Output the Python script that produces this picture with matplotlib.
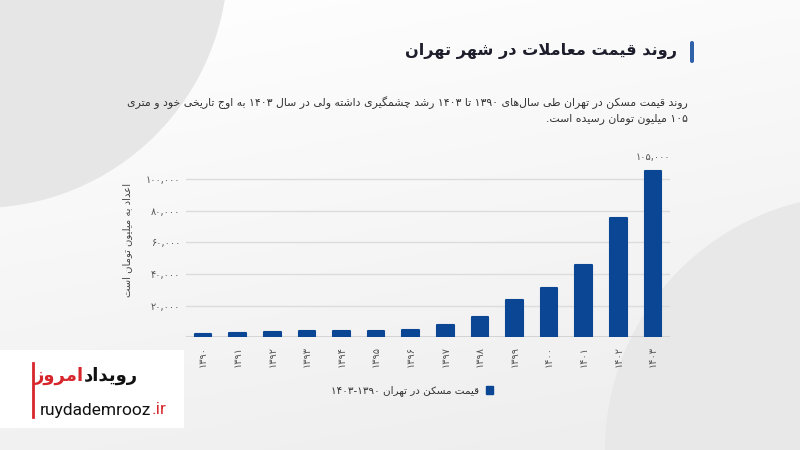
import matplotlib

matplotlib.use("Agg")
import matplotlib.pyplot as plt
import numpy as np
from matplotlib.colors import LinearSegmentedColormap
from matplotlib.patches import Circle, FancyBboxPatch, Patch, Rectangle

plt.rcParams["font.family"] = ["DejaVu Sans"]

# --- data -----------------------------------------------------------------
YEARS = [1390, 1391, 1392, 1393, 1394, 1395, 1396, 1397, 1398, 1399, 1400, 1401, 1402, 1403]
PRICES = [1900, 2800, 3600, 3800, 3800, 4200, 4900, 8000, 13100, 23600, 31400, 45800, 75700, 105000]
Y_TICKS = [20000, 40000, 60000, 80000, 100000]

TITLE = "روند قیمت معاملات در شهر تهران"
INTRO = [
    "روند قیمت مسکن در تهران طی سال\u200cهای ۱۳۹۰ تا ۱۴۰۳ رشد چشمگیری داشته ولی در سال ۱۴۰۳ به اوج تاریخی خود و متری",
    "۱۰۵ میلیون تومان رسیده است.",
]
Y_LABEL = "اعداد به میلیون تومان است"
LEGEND = "قیمت مسکن در تهران ۱۳۹۰-۱۴۰۳"

BLUE = "#0b4694"
RED = "#d7262b"

# --- minimal persian shaping (matplotlib has no bidi / joining) ------------
FORMS = {
    "ا": (0xFE8D, 0xFE8E), "آ": (0xFE81, 0xFE82), "د": (0xFEA9, 0xFEAA),
    "ذ": (0xFEAB, 0xFEAC), "ر": (0xFEAD, 0xFEAE), "ز": (0xFEAF, 0xFEB0),
    "ژ": (0xFB8A, 0xFB8B), "و": (0xFEED, 0xFEEE),
    "ب": (0xFE8F, 0xFE90, 0xFE91, 0xFE92), "پ": (0xFB56, 0xFB57, 0xFB58, 0xFB59),
    "ت": (0xFE95, 0xFE96, 0xFE97, 0xFE98), "ث": (0xFE99, 0xFE9A, 0xFE9B, 0xFE9C),
    "ج": (0xFE9D, 0xFE9E, 0xFE9F, 0xFEA0), "چ": (0xFB7A, 0xFB7B, 0xFB7C, 0xFB7D),
    "ح": (0xFEA1, 0xFEA2, 0xFEA3, 0xFEA4), "خ": (0xFEA5, 0xFEA6, 0xFEA7, 0xFEA8),
    "س": (0xFEB1, 0xFEB2, 0xFEB3, 0xFEB4), "ش": (0xFEB5, 0xFEB6, 0xFEB7, 0xFEB8),
    "ص": (0xFEB9, 0xFEBA, 0xFEBB, 0xFEBC), "ض": (0xFEBD, 0xFEBE, 0xFEBF, 0xFEC0),
    "ط": (0xFEC1, 0xFEC2, 0xFEC3, 0xFEC4), "ظ": (0xFEC5, 0xFEC6, 0xFEC7, 0xFEC8),
    "ع": (0xFEC9, 0xFECA, 0xFECB, 0xFECC), "غ": (0xFECD, 0xFECE, 0xFECF, 0xFED0),
    "ف": (0xFED1, 0xFED2, 0xFED3, 0xFED4), "ق": (0xFED5, 0xFED6, 0xFED7, 0xFED8),
    "ک": (0xFB8E, 0xFB8F, 0xFB90, 0xFB91), "گ": (0xFB92, 0xFB93, 0xFB94, 0xFB95),
    "ل": (0xFEDD, 0xFEDE, 0xFEDF, 0xFEE0), "م": (0xFEE1, 0xFEE2, 0xFEE3, 0xFEE4),
    "ن": (0xFEE5, 0xFEE6, 0xFEE7, 0xFEE8), "ه": (0xFEE9, 0xFEEA, 0xFEEB, 0xFEEC),
    "ی": (0xFBFC, 0xFBFD, 0xFBFE, 0xFBFF), "ئ": (0xFE89, 0xFE8A, 0xFE8B, 0xFE8C),
}
LAM_ALEF = {"ا": (0xFEFB, 0xFEFC), "آ": (0xFEF5, 0xFEF6)}


def shape(text):
    out, i = [], 0
    while i < len(text):
        c = text[i]
        if c not in FORMS:
            if c != "\u200c":
                out.append(c)
            i += 1
            continue
        prev = text[i - 1] if i else ""
        link_prev = len(FORMS.get(prev, ())) == 4
        nxt = text[i + 1] if i + 1 < len(text) else ""
        if c == "ل" and nxt in LAM_ALEF:
            out.append(chr(LAM_ALEF[nxt][1 if link_prev else 0]))
            i += 2
            continue
        f = FORMS[c]
        link_next = len(f) == 4 and nxt in FORMS
        if link_prev and link_next:
            out.append(chr(f[3]))
        elif link_prev:
            out.append(chr(f[1]))
        elif link_next:
            out.append(chr(f[2]))
        else:
            out.append(chr(f[0]))
        i += 1
    return out


def rtl(text):
    runs = []
    for g in shape(text):
        d = g.isdigit()
        if runs and runs[-1][0] == d:
            runs[-1][1].append(g)
        else:
            runs.append([d, [g]])
    return "".join("".join(s if d else s[::-1]) for d, s in reversed(runs))


FA_DIGITS = str.maketrans("0123456789", "۰۱۲۳۴۵۶۷۸۹")


def fa_num(v, comma=True):
    return (f"{v:,}" if comma else str(v)).translate(FA_DIGITS)


# --- figure & background (pixel coordinates) -------------------------------
fig = plt.figure(figsize=(8, 4.5), dpi=100)
bg = fig.add_axes([0, 0, 1, 1])
bg.set_xlim(0, 800)
bg.set_ylim(450, 0)
bg.axis("off")

yy, xx = np.mgrid[0:450, 0:800]
grad = 0.75 * yy / 450 + 0.25 * xx / 800
cmap = LinearSegmentedColormap.from_list("bg", ["#ffffff", "#ededed"])
bg.imshow(grad, cmap=cmap, extent=(0, 800, 450, 0), aspect="auto", zorder=0)
bg.add_patch(Circle((-20, -40), 248, facecolor="#e6e6e6", edgecolor="none", zorder=1))
bg.add_patch(Circle((860, 450), 255, facecolor="#e8e8e8", edgecolor="none", zorder=1))

# title block
bg.add_patch(FancyBboxPatch((690, 41), 4, 22, boxstyle="round,pad=0,rounding_size=2",
                            facecolor="#2f62a8", edgecolor="none", zorder=2))
bg.text(677, 51, rtl(TITLE), ha="right", va="center", fontsize=11.6,
        weight="bold", color="#1d1d2b", zorder=3)
for k, line in enumerate(INTRO):
    bg.text(688, 103 + 16 * k, rtl(line), ha="right", va="center",
            fontsize=7.8, color="#333333", zorder=3)

bg.text(127, 240, rtl(Y_LABEL), rotation=90, ha="center", va="center",
        fontsize=7.2, color="#444444", zorder=3)

# logo box
bg.add_patch(Rectangle((0, 350), 184, 78, facecolor="white", edgecolor="none", zorder=2))
bg.plot([33, 33], [363, 417], color=RED, lw=2, zorder=3)
t1 = bg.text(138, 376, rtl("رویداد"), ha="right", va="center", fontsize=13,
             weight="bold", color="#111111", zorder=3)
bg.annotate(rtl("امروز"), xy=(0, 0.5), xycoords=t1, ha="right", va="center",
            fontsize=13, weight="bold", color=RED, zorder=3)
t2 = bg.text(40, 410, "ruydademrooz", ha="left", va="center", fontsize=12.5,
             family="Roboto", color="#111111", zorder=3)
bg.annotate(".ir", xy=(1, 0), xycoords=t2, ha="left", va="bottom", fontsize=12.5,
            family="Roboto", color=RED, zorder=3)

# --- chart -----------------------------------------------------------------
ax = fig.add_axes([185.7 / 800, 1 - 337.3 / 450, 484.6 / 800, 177 / 450])
ax.set_facecolor("none")
x = np.arange(len(YEARS))
ax.bar(x, PRICES, width=0.48, color=BLUE, edgecolor=BLUE, lw=1.5,
       joinstyle="round", zorder=3)
ax.set_xlim(-0.5, len(YEARS) - 0.5)
ax.set_ylim(0, 112000)
ax.set_yticks(Y_TICKS)
ax.set_yticklabels([fa_num(v) for v in Y_TICKS])
ax.set_xticks(x)
ax.set_xticklabels([fa_num(y, comma=False) for y in YEARS], rotation=90)
ax.yaxis.grid(True, color="#dcdcdc", lw=1, zorder=0)
ax.axhline(0, color="#cfcfcf", lw=1.2, zorder=2)
for s in ax.spines.values():
    s.set_visible(False)
ax.tick_params(axis="y", length=0, pad=4, labelsize=7, labelcolor="#555555")
ax.tick_params(axis="x", length=0, pad=6, labelsize=7, labelcolor="#555555")

ax.annotate(fa_num(PRICES[-1]), xy=(x[-1], PRICES[-1]), xytext=(0, 7),
            textcoords="offset points", ha="center", va="bottom",
            fontsize=7, color="#555555")

ax.legend(handles=[Patch(facecolor=BLUE, edgecolor=BLUE)], labels=[rtl(LEGEND)],
          markerfirst=False, loc="center", bbox_to_anchor=(412 / 800, 1 - 391 / 450),
          bbox_transform=fig.transFigure, frameon=False, fontsize=7.5,
          handlelength=0.7, handleheight=0.7, handletextpad=0.6, labelcolor="#333333")

fig.savefig("out.png", dpi=100, facecolor=fig.get_facecolor())
